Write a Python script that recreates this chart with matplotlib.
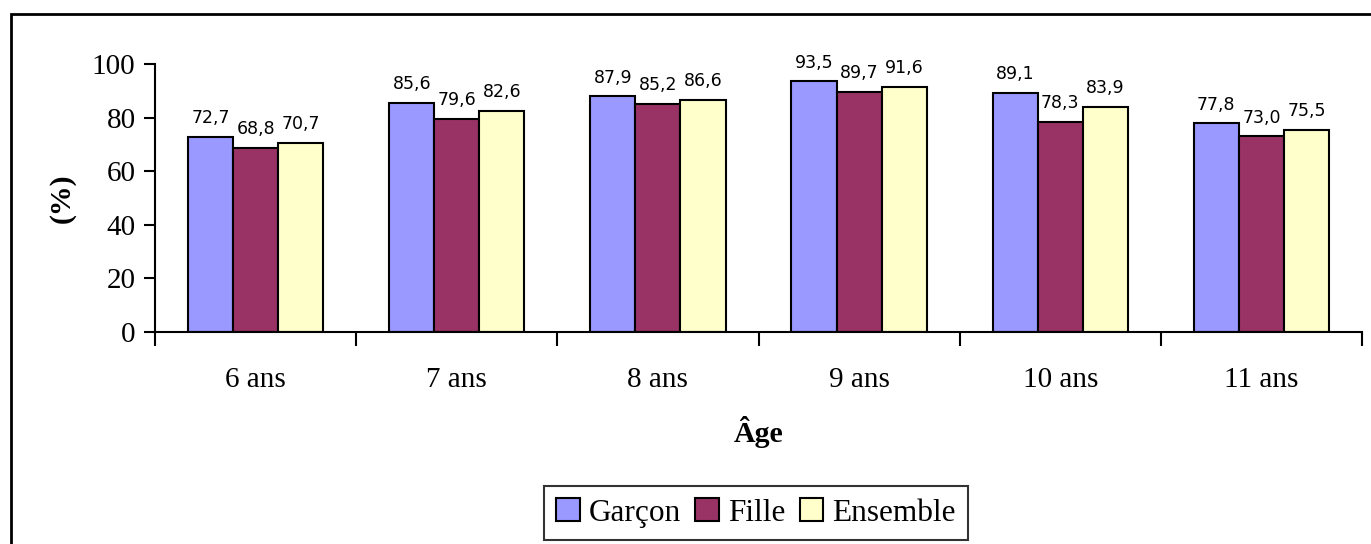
import numpy as np
import matplotlib.pyplot as plt
from matplotlib.patches import Rectangle

ages = ['6 ans', '7 ans', '8 ans', '9 ans', '10 ans', '11 ans']
garcon = [72.7, 85.6, 87.9, 93.5, 89.1, 77.8]
fille = [68.8, 79.6, 85.2, 89.7, 78.3, 73.0]
ensemble = [70.7, 82.6, 86.6, 91.6, 83.9, 75.5]
series_names = ['Garçon', 'Fille', 'Ensemble']
colors = ['#9999FF', '#993366', '#FFFFCC']

serif = ['Liberation Serif', 'DejaVu Serif']

fig = plt.figure(figsize=(13.71, 5.44), dpi=100)
ax = fig.add_axes([155 / 1371, 1 - 332 / 544, (1362 - 155) / 1371, (332 - 64) / 544])

x = np.arange(len(ages))
w = 0.224
for i, (vals, name, col) in enumerate(zip([garcon, fille, ensemble], series_names, colors)):
    pos = x + (i - 1) * w
    ax.bar(pos, vals, width=w, color=col, edgecolor='black', linewidth=1.5, label=name)
    for xp, v in zip(pos, vals):
        ax.annotate(f'{v:.1f}'.replace('.', ','), (xp, v), xytext=(0, 7),
                    textcoords='offset points', ha='center', va='bottom',
                    fontsize=12.5, family='DejaVu Sans')

ax.set_xlim(-0.5, len(ages) - 0.5)
ax.set_ylim(0, 100)
ax.set_yticks(range(0, 101, 20))
ax.set_xticks(x)
ax.set_xticklabels(ages)
ax.set_xticks(np.arange(-0.5, len(ages), 1), minor=True)
ax.tick_params(axis='x', which='major', length=0, pad=25)
ax.tick_params(axis='x', which='minor', length=10, width=1.5, direction='out')
ax.tick_params(axis='y', length=8, width=1.5, direction='out', pad=6)
for lab in ax.get_xticklabels() + ax.get_yticklabels():
    lab.set_family(serif)
    lab.set_fontsize(21)

ax.spines['top'].set_visible(False)
ax.spines['right'].set_visible(False)
ax.spines['left'].set_linewidth(1.5)
ax.spines['bottom'].set_linewidth(1.5)

ax.set_xlabel('Âge', family=serif, fontsize=21.5, fontweight='bold', labelpad=17)
ax.set_ylabel('(%)', family=serif, fontsize=21.5, fontweight='bold', labelpad=12)

leg = fig.legend(loc='center', bbox_to_anchor=(756 / 1371, 1 - 513 / 544), ncol=3,
                 prop={'family': serif, 'size': 22.5}, frameon=True, fancybox=False,
                 edgecolor='black', handlelength=0.75, handleheight=0.75,
                 handletextpad=0.3, columnspacing=0.45, borderpad=0.4, borderaxespad=0)
leg.get_frame().set_linewidth(1.5)

fig.patches.append(Rectangle((11 / 1371, -0.1), 1.2, 1.1 - 14 / 544, transform=fig.transFigure,
                             fill=False, edgecolor='black', linewidth=2, clip_on=False))

fig.savefig('out.png', dpi=100)
